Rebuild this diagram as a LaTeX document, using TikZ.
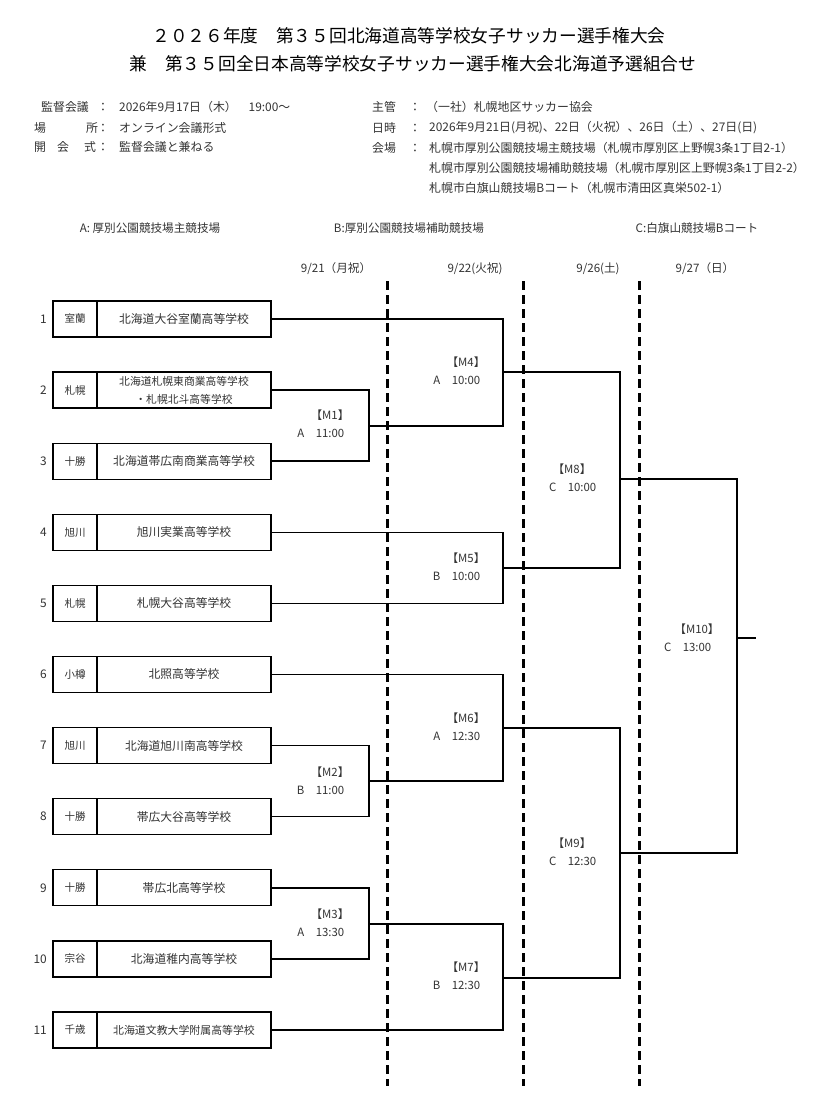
\documentclass[tikz,border=0pt]{standalone}
\usepackage{fontspec}
\setmainfont{Noto Sans CJK JP}
\usetikzlibrary{positioning}

\begin{document}
\begin{tikzpicture}[x=1pt, y=-1pt,
    every node/.style = {text=black!80, inner sep=0pt,
      font=\fontsize{11.9}{14}\selectfont},
    title/.style = {text=black, font=\fontsize{17.7}{20}\selectfont},
    head/.style = {font=\fontsize{11.6}{13}\selectfont},
    regbox/.style = {draw=black, line width=1.3pt, outer sep=0pt,
      minimum width=44pt, minimum height=36pt,
      font=\fontsize{10.5}{13}\selectfont},
    schoolbox/.style = {draw=black, line width=1.3pt, outer sep=0pt,
      minimum width=174pt, minimum height=36pt, align=center},
    bracket/.style = {line width=1.5pt},
    daydiv/.style = {line width=3pt, dash pattern=on 9pt off 5pt},
    mlabel/.style = {font=\fontsize{11.4}{13}\selectfont}]
  \fill[white] (0,0) rectangle (821,1096);
  \useasboundingbox (0,0) rectangle (821,1096);

  \node[title] (title1) at (409,36) {２０２６年度　第３５回北海道高等学校女子サッカー選手権大会};
  \node[title] (title2) at (413,64) {兼　第３５回全日本高等学校女子サッカー選手権大会北海道予選組合せ};

  % meeting
  \node[anchor=west] (mtg) at (41,107) {監督会議};
  \node (mtgc) at (103,107) {：};
  \node[anchor=west] (mtgv) at (119,107) {2026年9月17日（木）　19:00～};
  \node (plc1) at (40,128) {場};
  \node (plc2) at (92,128) {所};
  \node (plcc) at (103,128) {：};
  \node[anchor=west] (plcv) at (119,128) {オンライン会議形式};
  \node (opn1) at (40,147) {開};
  \node (opn2) at (63,147) {会};
  \node (opn3) at (90,147) {式};
  \node (opnc) at (103,147) {：};
  \node[anchor=west] (opnv) at (119,147) {監督会議と兼ねる};

  % organiser, dates, venues
  \node[anchor=west] (org) at (372,107) {主管};
  \node (orgc) at (415,107) {：};
  \node[anchor=west] (orgv) at (426,107) {（一社）札幌地区サッカー協会};
  \node[anchor=west] (day) at (372,128) {日時};
  \node (dayc) at (415,128) {：};
  \node[anchor=west] (dayv) at (429,128) {2026年9月21日(月祝)、22日（火祝）、26日（土）、27日(日)};
  \node[anchor=west] (ven) at (372,148) {会場};
  \node (venc) at (415,148) {：};
  \node[anchor=west] (venA) at (429,148) {札幌市厚別公園競技場主競技場（札幌市厚別区上野幌3条1丁目2-1）};
  \node[anchor=west] (venB) at (429,168) {札幌市厚別公園競技場補助競技場（札幌市厚別区上野幌3条1丁目2-2）};
  \node[anchor=west] (venC) at (429,188) {札幌市白旗山競技場Bコート（札幌市清田区真栄502-1）};

  \node[head] (hA) at (150,228) {A: 厚別公園競技場主競技場};
  \node[head] (hB) at (409,228) {B:厚別公園競技場補助競技場};
  \node[head] (hC) at (697,228) {C:白旗山競技場Bコート};

  \node[head] (d1) at (336,269) {9/21（月祝）};
  \node[head] (d2) at (475,269) {9/22(火祝)};
  \node[head] (d3) at (598,269) {9/26(土)};
  \node[head] (d4) at (705,269) {9/27（日）};

  \foreach \x in {387,523,639}
    \draw[daydiv] (\x,281) -- (\x,1086);

  % teams
  \foreach \i/\r/\s/\fs in {1/室蘭/北海道大谷室蘭高等学校/11.8,
      2/札幌/{北海道札幌東商業高等学校\\・札幌北斗高等学校}/10.8,
      3/十勝/北海道帯広南商業高等学校/11.8, 4/旭川/旭川実業高等学校/11.8,
      5/札幌/札幌大谷高等学校/11.8, 6/小樽/北照高等学校/11.8,
      7/旭川/北海道旭川南高等学校/11.8, 8/十勝/帯広大谷高等学校/11.8,
      9/十勝/帯広北高等学校/11.8, 10/宗谷/北海道稚内高等学校/11.8,
      11/千歳/北海道文教大学附属高等学校/10.9} {
    \node[regbox] (r\i) at (75,319+71.1*\i-71.1) {\r};
    \node[schoolbox, right=0pt of r\i, font=\fontsize{\fs}{18}\selectfont] (s\i) {\s};
    \node[left=6pt of r\i] (n\i) {\i};
  }

  \coordinate (m1) at (369,426);
  \coordinate (m2) at (369,781);
  \coordinate (m3) at (369,924);
  \coordinate (m4) at (503,372);
  \coordinate (m5) at (503,568);
  \coordinate (m6) at (503,728);
  \coordinate (m7) at (503,978);
  \coordinate (m8) at (620,479);
  \coordinate (m9) at (620,853);
  \coordinate (m10) at (737,638);
  \coordinate (champ) at (756,638);

  \draw[bracket] (s2.east) -| (m1) |- (s3.east);
  \draw[bracket] (s7.east) -| (m2) |- (s8.east);
  \draw[bracket] (s9.east) -| (m3) |- (s10.east);
  \draw[bracket] (s1.east) -| (m4) |- (m1);
  \draw[bracket] (s4.east) -| (m5) |- (s5.east);
  \draw[bracket] (s6.east) -| (m6) |- (m2);
  \draw[bracket] (m3) -| (m7) |- (s11.east);
  \draw[bracket] (m4) -| (m8) |- (m5);
  \draw[bracket] (m6) -| (m9) |- (m7);
  \draw[bracket] (m8) -| (m10) |- (m9);
  \draw[bracket] (m10) -- (champ);

  % match labels
  \foreach \m/\lx/\ly/\v/\tx/\t in {1/330/415/A/330/11:00, 2/330/772/B/330/11:00,
      3/330/914/A/330/13:30, 4/466/362/A/466/10:00, 5/466/558/B/466/10:00,
      6/466/718/A/466/12:30, 7/466/967/B/466/12:30, 8/572/469/C/582/10:00,
      9/572/843/C/582/12:30, 10/697/629/C/697/13:00} {
    \node[mlabel] (lab\m) at (\lx,\ly) {【M\m】};
    \node[mlabel] (time\m) at (\tx,\ly+18) {\t};
    \node[mlabel, left=11pt of time\m] (ven\m) {\v};
  }
\end{tikzpicture}
\end{document}
